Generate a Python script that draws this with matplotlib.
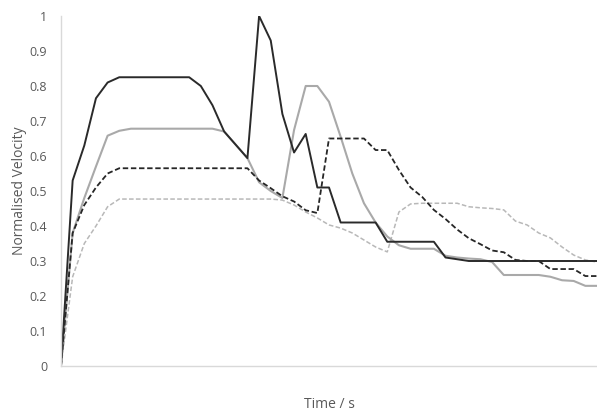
import numpy as np
import matplotlib.pyplot as plt

# time steps (no labels shown on the x axis)
t = np.arange(47)

# series values, one per time step
solid_dark = [0, 0.53, 0.63, 0.765, 0.81, 0.825, 0.825, 0.825, 0.825, 0.825,
              0.825, 0.825, 0.80, 0.745, 0.67, 0.632, 0.594, 1.0, 0.93, 0.72,
              0.61, 0.663, 0.51, 0.51, 0.41, 0.41, 0.41, 0.41, 0.355, 0.355,
              0.355, 0.355, 0.355, 0.31, 0.305, 0.30, 0.30, 0.30, 0.30, 0.30,
              0.30, 0.30, 0.30, 0.30, 0.30, 0.30, 0.30]
solid_grey = [0, 0.38, 0.48, 0.57, 0.658, 0.672, 0.678, 0.678, 0.678, 0.678,
              0.678, 0.678, 0.678, 0.678, 0.67, 0.632, 0.594, 0.525, 0.50, 0.48,
              0.674, 0.80, 0.80, 0.755, 0.655, 0.55, 0.465, 0.41, 0.37, 0.345,
              0.335, 0.335, 0.335, 0.315, 0.31, 0.307, 0.305, 0.297, 0.26, 0.26,
              0.26, 0.26, 0.255, 0.245, 0.243, 0.229, 0.229]
dash_dark = [0, 0.38, 0.46, 0.51, 0.55, 0.565, 0.565, 0.565, 0.565, 0.565,
             0.565, 0.565, 0.565, 0.565, 0.565, 0.565, 0.565, 0.53, 0.508, 0.485,
             0.47, 0.445, 0.437, 0.65, 0.65, 0.65, 0.65, 0.617, 0.617, 0.56,
             0.51, 0.483, 0.446, 0.42, 0.39, 0.365, 0.348, 0.33, 0.325, 0.303,
             0.30, 0.30, 0.277, 0.277, 0.277, 0.257, 0.257]
dash_light = [0, 0.255, 0.35, 0.40, 0.455, 0.477, 0.477, 0.477, 0.477, 0.477,
              0.477, 0.477, 0.477, 0.477, 0.477, 0.477, 0.477, 0.477, 0.477, 0.474,
              0.46, 0.44, 0.423, 0.403, 0.394, 0.38, 0.36, 0.34, 0.326, 0.44,
              0.463, 0.465, 0.465, 0.465, 0.465, 0.455, 0.452, 0.45, 0.446, 0.414,
              0.403, 0.38, 0.366, 0.34, 0.317, 0.303, 0.297]

yticks = [0, 0.1, 0.2, 0.3, 0.4, 0.5, 0.6, 0.7, 0.8, 0.9, 1]
ytick_labels = ["0", "0.1", "0.2", "0.3", "0.4", "0.5", "0.6", "0.7", "0.8", "0.9", "1"]

plt.rcParams['font.family'] = ['Open Sans', 'DejaVu Sans']

fig = plt.figure(figsize=(5.97, 4.12), dpi=100)
ax = fig.add_axes([61/597, 46/412, 536/597, 350/412])

ax.plot(t, dash_light, color="#b8b8b8", lw=1.1, ls=(0, (3, 1.5)))
ax.plot(t, solid_grey, color="#a9a9a9", lw=1.5)
ax.plot(t, dash_dark, color="#262626", lw=1.3, ls=(0, (3, 1.5)))
ax.plot(t, solid_dark, color="#2a2a2a", lw=1.4)

ax.set_xlim(0, 46)
ax.set_ylim(0, 1)
ax.set_yticks(yticks)
ax.set_yticklabels(ytick_labels)
ax.set_xticks([])
ax.tick_params(axis='y', length=0, pad=10, labelsize=9, labelcolor="#595959")

for s in ["top", "right"]:
    ax.spines[s].set_visible(False)
ax.spines["left"].set_color("#d9d9d9")
ax.spines["bottom"].set_color("#d9d9d9")
ax.spines["left"].set_linewidth(1)
ax.spines["bottom"].set_linewidth(1)

ax.set_ylabel("Normalised Velocity", fontsize=10, color="#595959", labelpad=2)
ax.set_xlabel("Time / s", fontsize=10, color="#595959", labelpad=22)

fig.savefig("out.png", dpi=100)
